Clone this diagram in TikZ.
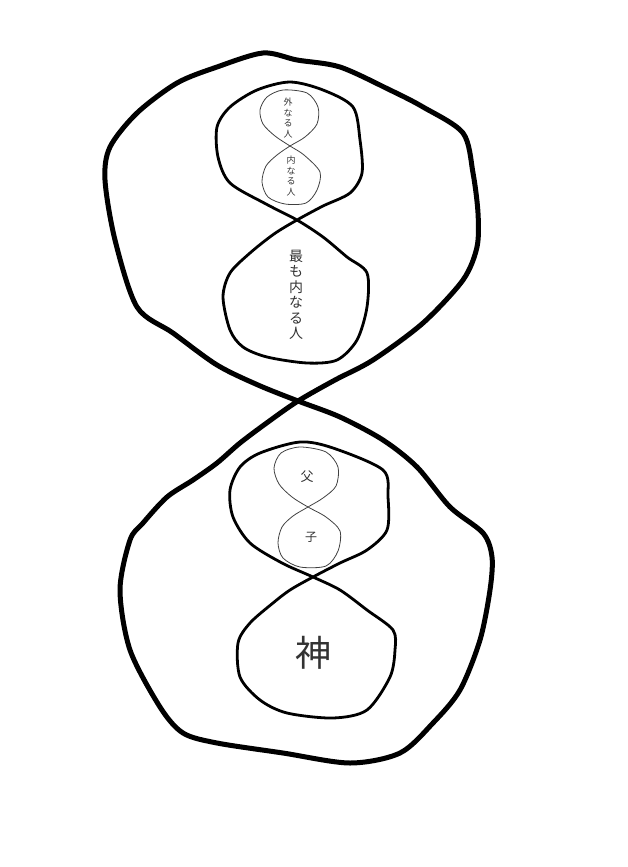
\documentclass[tikz,border=0pt]{standalone}
\usepackage{fontspec}
\newfontfamily\cjk{Noto Sans CJK JP}

\begin{document}
\begin{tikzpicture}[
    x=1pt, y=-1pt,
    outerline/.style={line width=5pt, line join=round},
    frameline/.style={line width=2.8pt, line join=round},
    thinline/.style={line width=0.8pt, draw=black!75},
    every node/.style={font=\cjk, text=black!80, align=center, inner sep=0pt}
]
\useasboundingbox (0,0) rectangle (627,867);

% big figure-eight
\draw[outerline] plot[smooth cycle, tension=0.5] coordinates {
    (298,401) (258,385) (217,365) (173,333) (137,307) (115,240) (105,180)
    (110,147) (137,113) (177,83) (217,67) (263,53) (297,60) (340,67)
    (390,90) (423,107) (463,133) (473,173) (478,213) (477,247) (463,280)
    (423,323) (373,360) (335,380)
    (298,401) (268,422) (240,443) (217,463) (193,480) (167,497)
    (143,523) (130,540) (120,590) (130,650) (160,707) (183,733) (217,743)
    (283,753) (350,763) (400,753) (433,723) (460,690) (480,640) (490,590)
    (492,557) (483,533) (450,507) (417,467) (383,440) (340,417)};

% upper frame
\draw[frameline] plot[smooth cycle, tension=0.5] coordinates {
    (297,220) (274,234) (250,253) (230,273) (223,297) (230,330) (243,347)
    (267,357) (307,363) (337,360) (357,340) (367,307) (367,273) (347,257)
    (323,237)
    (297,220) (266,204) (230,183) (218,157) (217,127) (230,107) (257,90)
    (290,82) (323,90) (353,107) (360,140) (362,173) (350,193) (323,206)};

% lower frame
\draw[frameline] plot[smooth cycle, tension=0.5] coordinates {
    (313,577) (290,590) (273,603) (250,623) (238,643) (240,677) (260,700)
    (287,713) (333,718) (367,710) (390,677) (395,650) (393,630) (367,610)
    (340,590)
    (313,577) (282,563) (250,543) (233,517) (230,490) (240,467) (260,453)
    (300,442) (333,448) (383,470) (388,497) (387,530) (367,550) (340,563)};

% thin loops, top
\draw[thinline] plot[smooth cycle, tension=0.5] coordinates {
    (290,146) (275,136) (263,124) (260,110) (267,97) (283,90) (307,93)
    (318,107) (317,124) (305,137)
    (290,146) (277,155) (266,166) (262,182) (268,197) (285,204) (306,203)
    (317,190) (320,172) (304,155)};

% thin loops, bottom
\draw[thinline] plot[smooth cycle, tension=0.5] coordinates {
    (308,507) (292,497) (279,484) (274,468) (281,453) (300,447) (326,452)
    (338,467) (336,486) (323,498)
    (308,507) (293,516) (282,527) (278,543) (283,558) (300,567) (326,566)
    (338,551) (340,531) (326,517)};

% labels
\node[font=\cjk\fontsize{9}{10.5}\selectfont] (outerman) at (288,118) {外\\な\\る\\人};
\node[font=\cjk\fontsize{9}{10.5}\selectfont] (innerman) at (291,176) {内\\な\\る\\人};
\node[font=\cjk\fontsize{14}{15.5}\selectfont] (inmost) at (296,295) {最\\も\\内\\な\\る\\人};
\node[font=\cjk\fontsize{13}{14}\selectfont] (father) at (307,477) {父};
\node[font=\cjk\fontsize{12}{13}\selectfont] (son) at (311,537) {子};
\node[font=\cjk\fontsize{36}{40}\selectfont] (god) at (313,653) {神};
\end{tikzpicture}
\end{document}
